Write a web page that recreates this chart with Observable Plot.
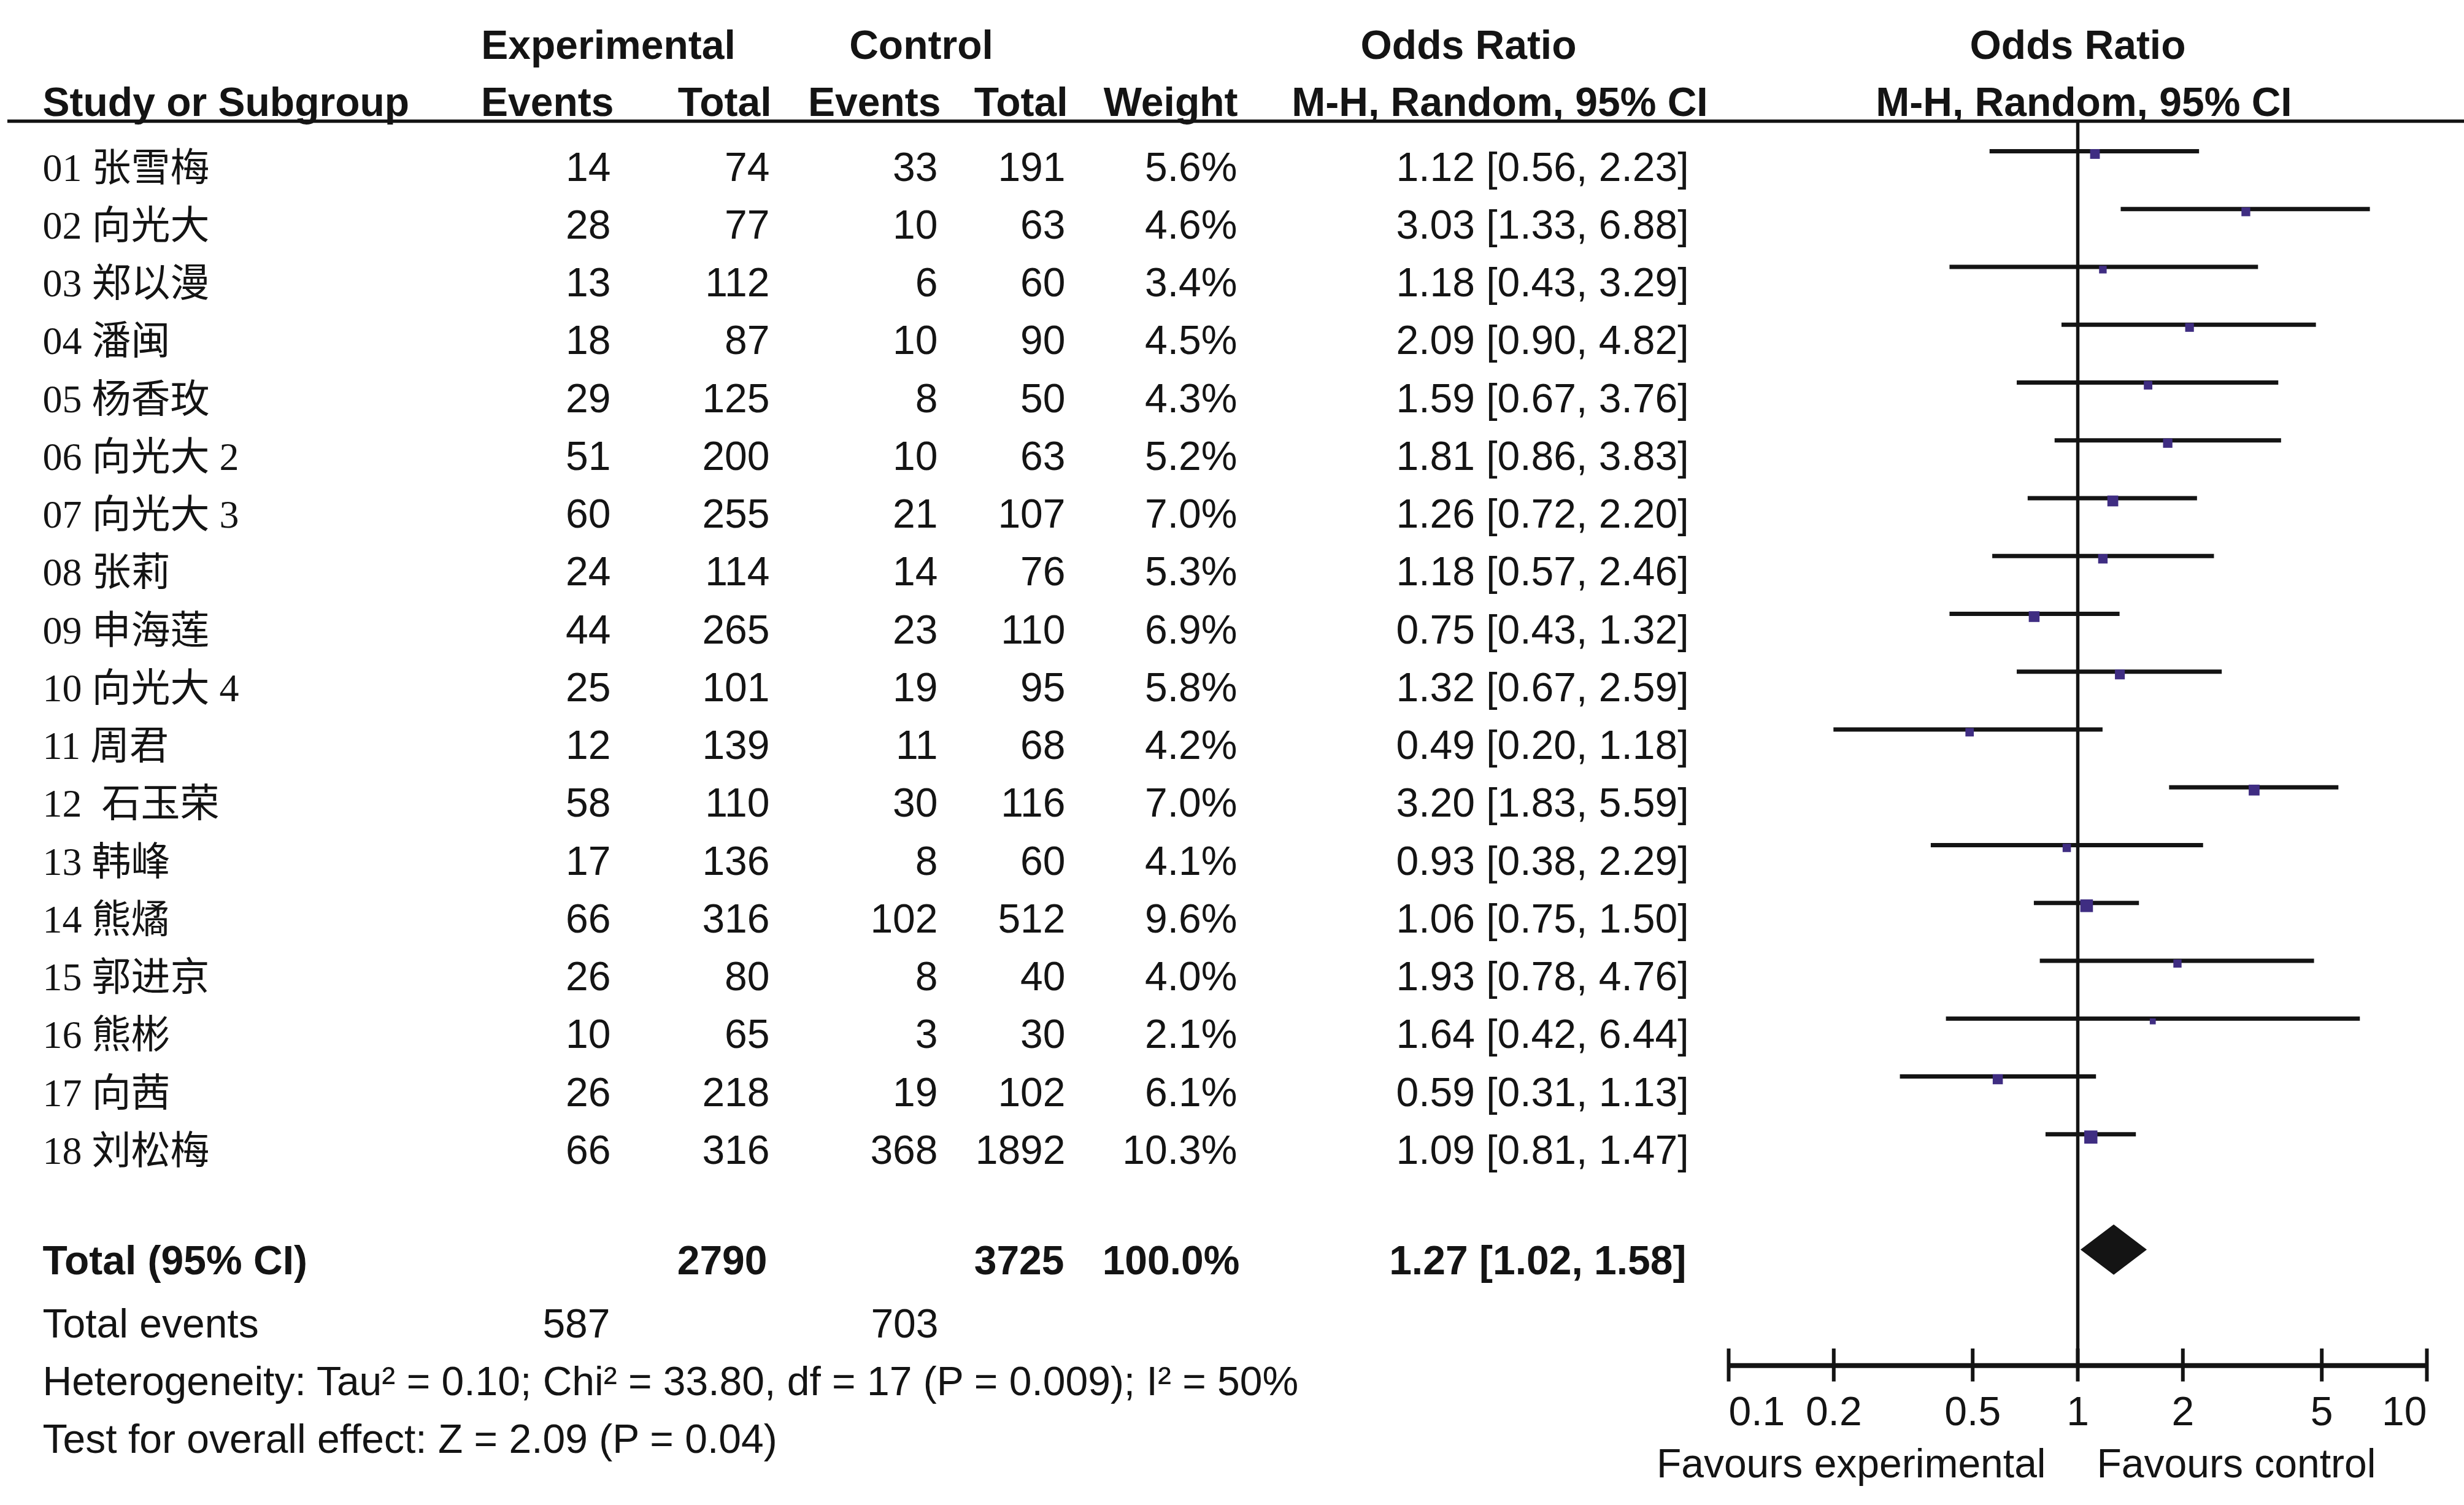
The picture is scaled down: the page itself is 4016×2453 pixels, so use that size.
<!DOCTYPE html>
<html>
<head>
<meta charset="utf-8">
<script src="https://cdn.jsdelivr.net/npm/d3@7"></script>
<script src="https://cdn.jsdelivr.net/npm/@observablehq/plot@0.6"></script>
<style>
html, body { margin: 0; padding: 0; background: #fff; }
#chart svg { display: block; }
</style>
</head>
<body>
<div id="chart"></div>
<script>
// ---------------- data ----------------
const studies = ["01 张雪梅", "02 向光大", "03 郑以漫", "04 潘闽", "05 杨香玫", "06 向光大 2",
  "07 向光大 3", "08 张莉", "09 申海莲", "10 向光大 4", "11 周君", "12  石玉荣",
  "13 韩峰", "14 熊燏", "15 郭进京", "16 熊彬", "17 向茜", "18 刘松梅"];
const expEvents  = [14, 28, 13, 18, 29, 51, 60, 24, 44, 25, 12, 58, 17, 66, 26, 10, 26, 66];
const expTotal   = [74, 77, 112, 87, 125, 200, 255, 114, 265, 101, 139, 110, 136, 316, 80, 65, 218, 316];
const ctrlEvents = [33, 10, 6, 10, 8, 10, 21, 14, 23, 19, 11, 30, 8, 102, 8, 3, 19, 368];
const ctrlTotal  = [191, 63, 60, 90, 50, 63, 107, 76, 110, 95, 68, 116, 60, 512, 40, 30, 102, 1892];
const weights    = [5.6, 4.6, 3.4, 4.5, 4.3, 5.2, 7.0, 5.3, 6.9, 5.8, 4.2, 7.0, 4.1, 9.6, 4.0, 2.1, 6.1, 10.3];
const oddsRatio  = [1.12, 3.03, 1.18, 2.09, 1.59, 1.81, 1.26, 1.18, 0.75, 1.32, 0.49, 3.20, 0.93, 1.06, 1.93, 1.64, 0.59, 1.09];
const ciLow      = [0.56, 1.33, 0.43, 0.90, 0.67, 0.86, 0.72, 0.57, 0.43, 0.67, 0.20, 1.83, 0.38, 0.75, 0.78, 0.42, 0.31, 0.81];
const ciHigh     = [2.23, 6.88, 3.29, 4.82, 3.76, 3.83, 2.20, 2.46, 1.32, 2.59, 1.18, 5.59, 2.29, 1.50, 4.76, 6.44, 1.13, 1.47];

const totalSizes  = [2790, 3725];          // experimental, control
const totalEvents = [587, 703];            // experimental, control
const totalWeight = 100.0;
const totalOR     = [1.27, 1.02, 1.58];    // estimate, low, high
const heterogeneity = "Heterogeneity: Tau² = 0.10; Chi² = 33.80, df = 17 (P = 0.009); I² = 50%";
const overallTest   = "Test for overall effect: Z = 2.09 (P = 0.04)";

const axisTicks      = [0.1, 0.2, 0.5, 1, 2, 5, 10];
const axisTickLabels = ["0.1", "0.2", "0.5", "1", "2", "5", "10"];
const favourLabels   = ["Favours experimental", "Favours control"];

// ---------------- layout / style ----------------
const W = 4016, H = 2453, ML = 12;
const SANS = "'Liberation Sans', Arial, Helvetica, sans-serif";
const SERIF_CJK = "'Liberation Serif', 'Times New Roman', 'Noto Sans CJK SC', serif";
const FS = 66, INK = "#141414", MARK = "#3f2d82";
const TEXT_DY = 48;           // baseline below row line
const ROW_TOTAL = 19, ROW_EVENTS = 20, ROW_HET = 21, ROW_TEST = 22;
const ROW_AXIS = 21, ROW_TICKLAB = 22, ROW_FAV = 23, ROW_HEADLINE = -0.52;

const rows = studies.map((label, i) => ({
  row: i, label,
  ee: expEvents[i], et: expTotal[i], ce: ctrlEvents[i], ct: ctrlTotal[i],
  w: weights[i], or: oddsRatio[i], lo: ciLow[i], hi: ciHigh[i]
}));
const fmtCI = (o, l, h) => `${o.toFixed(2)} [${l.toFixed(2)}, ${h.toFixed(2)}]`;

// column text helper (x in page pixels for layout only, y through the y scale)
function col(data, text, xPos, anchor, extra = {}) {
  return Plot.text(data, {
    y: "row", text, frameAnchor: "left", dx: xPos - ML, textAnchor: anchor,
    lineAnchor: "bottom", dy: TEXT_DY, fontSize: FS, fontFamily: SANS, fill: INK, ...extra
  });
}
function header(str, xPos, baseline, anchor) {
  return Plot.text([str], {
    text: d => d, frameAnchor: "top-left", dx: xPos - ML, dy: baseline, textAnchor: anchor,
    lineAnchor: "bottom", fontSize: FS, fontFamily: SANS, fontWeight: "bold", fill: INK
  });
}

const totalRow = [{row: ROW_TOTAL}];
const eventsRow = [{row: ROW_EVENTS}];
const bold = {fontWeight: "bold", dy: 40};

const diamond = [
  {x: totalOR[1], y1: ROW_TOTAL, y2: ROW_TOTAL},
  {x: totalOR[0], y1: ROW_TOTAL - 0.435, y2: ROW_TOTAL + 0.435},
  {x: totalOR[2], y1: ROW_TOTAL, y2: ROW_TOTAL}
];
const tickData = axisTicks.map((t, i) => ({t, label: axisTickLabels[i], row: ROW_TICKLAB}));

const chart = Plot.plot({
  width: W, height: H,
  marginLeft: ML, marginRight: 0, marginTop: 0, marginBottom: 0,
  style: {background: "#fff"},
  x: {type: "log", domain: [0.1, 10], range: [2817, 3955], axis: null},
  y: {type: "linear", domain: [0, 22], range: [246, 246 + 22 * 94.25], axis: null},
  r: {type: "sqrt", domain: [0, 10.3], range: [0, 12.1]},
  marks: [
    // headers
    header("Experimental", 991, 95, "middle"),
    header("Control", 1501, 95, "middle"),
    header("Odds Ratio", 2393, 95, "middle"),
    header("Odds Ratio", 3386, 95, "middle"),
    header("Study or Subgroup", 69, 188, "start"),
    header("Events", 1000, 188, "end"),
    header("Total", 1257, 188, "end"),
    header("Events", 1533, 188, "end"),
    header("Total", 1740, 188, "end"),
    header("Weight", 2017, 188, "end"),
    header("M-H, Random, 95% CI", 2444, 188, "middle"),
    header("M-H, Random, 95% CI", 3396, 188, "middle"),
    Plot.ruleY([ROW_HEADLINE], {stroke: INK, strokeWidth: 5.5}),

    // study rows
    Plot.text(rows, {y: "row", text: "label", frameAnchor: "left", dx: 69 - ML, textAnchor: "start",
      lineAnchor: "bottom", dy: TEXT_DY, fontSize: 64, fontFamily: SERIF_CJK, fill: INK}),
    col(rows, d => String(d.ee), 995, "end"),
    col(rows, d => String(d.et), 1254, "end"),
    col(rows, d => String(d.ce), 1528, "end"),
    col(rows, d => String(d.ct), 1736, "end"),
    col(rows, d => `${d.w.toFixed(1)}%`, 2016, "end"),
    col(rows, d => fmtCI(d.or, d.lo, d.hi), 2752, "end"),

    // total row
    col(totalRow, () => "Total (95% CI)", 69, "start", bold),
    col(totalRow, () => String(totalSizes[0]), 1250, "end", bold),
    col(totalRow, () => String(totalSizes[1]), 1734, "end", bold),
    col(totalRow, () => `${totalWeight.toFixed(1)}%`, 2020, "end", bold),
    col(totalRow, () => fmtCI(totalOR[0], totalOR[1], totalOR[2]), 2748, "end", bold),

    // total events & footnotes
    col(eventsRow, () => "Total events", 69, "start"),
    col(eventsRow, () => String(totalEvents[0]), 994, "end"),
    col(eventsRow, () => String(totalEvents[1]), 1529, "end"),
    col([{row: ROW_HET}], () => heterogeneity, 69, "start"),
    col([{row: ROW_TEST}], () => overallTest, 69, "start"),

    // forest plot
    Plot.ruleX([1], {y1: ROW_HEADLINE, y2: ROW_AXIS, stroke: INK, strokeWidth: 5.5}),
    Plot.ruleY(rows, {y: "row", x1: "lo", x2: "hi", stroke: INK, strokeWidth: 7}),
    Plot.dot(rows, {x: "or", y: "row", r: "w", symbol: "square", fill: MARK, stroke: "none", dy: 4.5}),
    Plot.areaY(diamond, {x: "x", y1: "y1", y2: "y2", fill: INK}),

    // axis
    Plot.ruleY([ROW_AXIS], {x1: 0.1, x2: 10, stroke: INK, strokeWidth: 8}),
    Plot.ruleX(axisTicks, {y1: ROW_AXIS - 0.29, y2: ROW_AXIS + 0.28, stroke: INK, strokeWidth: 6}),
    Plot.text(tickData.slice(0, 1), {x: "t", y: "row", text: "label", textAnchor: "start", lineAnchor: "bottom", dy: 2.5, fontSize: FS, fontFamily: SANS, fill: INK}),
    Plot.text(tickData.slice(1, -1), {x: "t", y: "row", text: "label", textAnchor: "middle", lineAnchor: "bottom", dy: 2.5, fontSize: FS, fontFamily: SANS, fill: INK}),
    Plot.text(tickData.slice(-1), {x: "t", y: "row", text: "label", textAnchor: "end", lineAnchor: "bottom", dy: 2.5, fontSize: FS, fontFamily: SANS, fill: INK}),
    Plot.text([{x: 1, row: ROW_FAV, label: favourLabels[0]}], {x: "x", y: "row", text: "label", textAnchor: "end", dx: -52, lineAnchor: "bottom", dy: -6, fontSize: FS, fontFamily: SANS, fill: INK}),
    Plot.text([{x: 1, row: ROW_FAV, label: favourLabels[1]}], {x: "x", y: "row", text: "label", textAnchor: "start", dx: 31, lineAnchor: "bottom", dy: -6, fontSize: FS, fontFamily: SANS, fill: INK})
  ]
});
document.getElementById("chart").appendChild(chart);
</script>
</body>
</html>
